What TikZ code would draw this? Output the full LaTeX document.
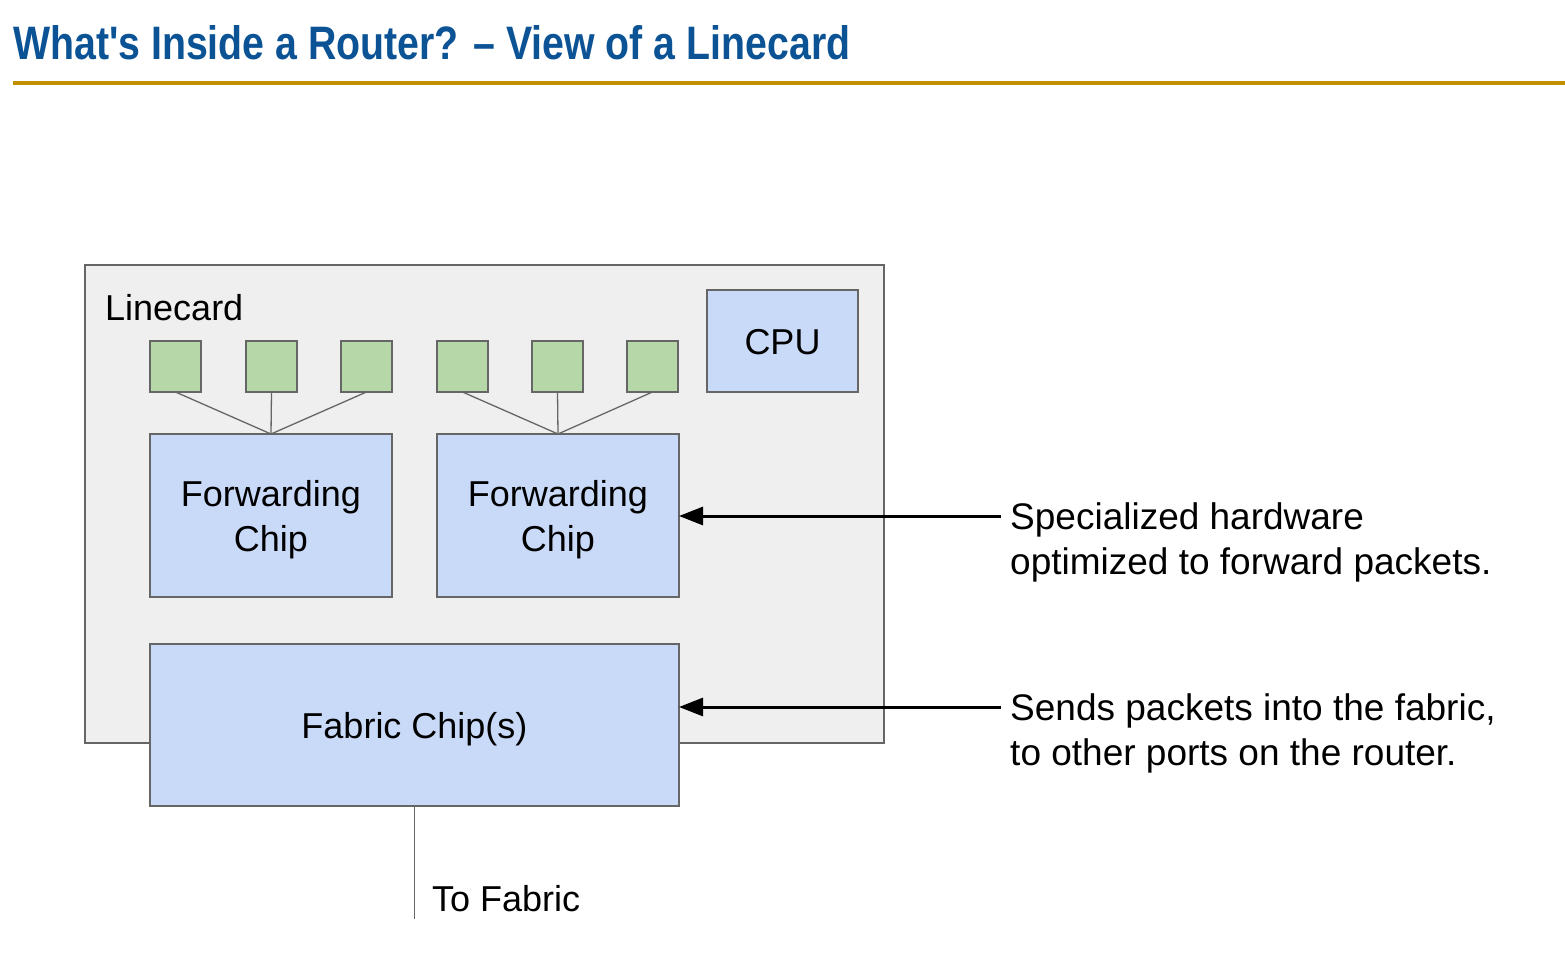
\documentclass[tikz,border=0pt]{standalone}
\usepackage{fontspec}
\setmainfont{Liberation Sans}
\newfontfamily\titlefont{Liberation Sans}
\usetikzlibrary{arrows.meta}
\definecolor{titleblue}{HTML}{0B5394}
\definecolor{gold}{HTML}{BF9000}
\definecolor{cardfill}{HTML}{EFEFEF}
\definecolor{edge}{HTML}{666666}
\definecolor{portgreen}{HTML}{B6D7A8}
\definecolor{chipblue}{HTML}{C9DAF8}
\tikzset{
  box/.style={draw=edge, line width=1.5pt, outer sep=0pt, inner sep=0pt, anchor=center},
  port/.style={box, fill=portgreen, minimum width=51pt, minimum height=51pt},
  chip/.style={box, fill=chipblue},
  chiptext/.style={align=center, inner sep=0pt, font=\fontsize{36}{45}\selectfont},
  wire/.style={draw=edge, line width=1.3pt},
  callout/.style={line width=3pt, -{Triangle[length=24pt,width=18pt]}},
  note/.style={anchor=west, align=left, inner sep=0pt, font=\fontsize{37}{45}\selectfont},
}
\begin{document}
\begin{tikzpicture}[x=1pt,y=-1pt]
\useasboundingbox (0,0) rectangle (1565,960);
% title
\node[anchor=base west, inner sep=0pt, text=titleblue] (title) at (13,60)
  {\resizebox{837pt}{34pt}{\titlefont\bfseries What's Inside a Router? – View of a Linecard}};
\draw[gold, line width=3.5pt] (13,83) -- (1565,83);
% linecard
\node[box, fill=cardfill, minimum width=799pt, minimum height=478pt] (card) at (484.5,504) {};
\node[anchor=base west, inner sep=0pt, font=\fontsize{36}{45}\selectfont] (cardlabel) at (105,320) {Linecard};
% CPU
\node[chip, minimum width=151pt, minimum height=102pt] (cpu) at (782.5,341) {};
\node[chiptext] (cputext) at (782.5,342) {CPU};
% forwarding chips
\node[chip, minimum width=242pt, minimum height=163pt] (fc1) at (271,515.5) {};
\node[chip, minimum width=242pt, minimum height=163pt] (fc2) at (558,515.5) {};
\node[chiptext] (fc1text) at (271,520) {Forwarding\\Chip};
\node[chiptext] (fc2text) at (558,520) {Forwarding\\Chip};
% ports
\node[port] (p1) at (175.5,366.5) {};
\node[port] (p2) at (271.5,366.5) {};
\node[port] (p3) at (366.5,366.5) {};
\node[port] (p4) at (462.5,366.5) {};
\node[port] (p5) at (557.5,366.5) {};
\node[port] (p6) at (652.5,366.5) {};
\foreach \p in {p1,p2,p3} \draw[wire] (\p.south) -- (fc1.north);
\foreach \p in {p4,p5,p6} \draw[wire] (\p.south) -- (fc2.north);
% fabric chip
\node[chip, minimum width=529pt, minimum height=162pt] (fab) at (414.5,725) {};
\node[chiptext] (fabtext) at (414.5,729) {Fabric Chip(s)};
\coordinate (fabout) at (414.5,919);
\draw[wire] (fab.south) -- (fabout);
\node[anchor=base west, inner sep=0pt, font=\fontsize{36}{45}\selectfont] (tofab) at (432,911) {To Fabric};
% notes
\node[note] (n1) at (1010,542) {Specialized hardware\\optimized to forward packets.};
\node[note] (n2) at (1010,733) {Sends packets into the fabric,\\to other ports on the router.};
\coordinate (a1) at (1001,516);
\coordinate (a2) at (1001,707);
\draw[callout] (a1) -- (fc2.east |- a1);
\draw[callout] (a2) -- (fab.east |- a2);
\end{tikzpicture}
\end{document}
